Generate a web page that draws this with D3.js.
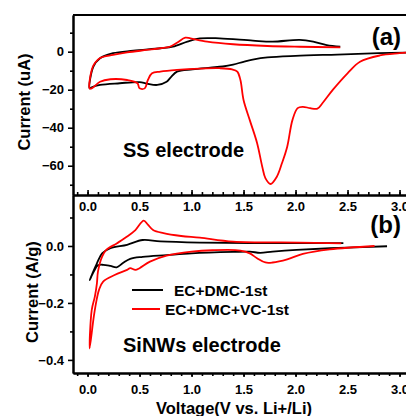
<!DOCTYPE html>
<html>
<head>
<meta charset="utf-8">
<script src="https://cdn.jsdelivr.net/npm/d3@7"></script>
<style>
  html, body { margin: 0; padding: 0; background: #fff; }
  svg { display: block; font-family: "Liberation Sans", Arial, sans-serif; font-weight: bold; }
  .axis path, .axis line { stroke: #000; }
  .axis text { font-size: 13px; font-weight: bold; fill: #000; }
</style>
</head>
<body>
<svg id="chart" width="406" height="416"></svg>
<script>
// Panel (a): SS electrode, current in uA  -- [voltage, current]
const ssDmc = [
  [3.10, -0.5], [2.80, -0.8], [2.40, -1.5], [2.00, -2.2], [1.73, -3.0], [1.60, -4.0],
  [1.50, -5.3], [1.40, -6.8], [1.30, -7.8], [1.18, -8.4], [1.01, -9.3], [0.86, -10.5],
  [0.80, -13.5], [0.76, -15.8], [0.67, -17.5], [0.57, -16.8], [0.50, -16.0], [0.31, -16.6],
  [0.12, -17.5], [0.04, -18.7], [0.02, -19.3],
  [0.056, -7.9], [0.12, -3.5], [0.245, -0.8], [0.44, 0.5], [0.70, 1.8], [0.82, 2.6],
  [0.96, 5.3], [1.08, 7.0], [1.27, 7.0], [1.59, 5.8], [1.78, 5.3], [2.04, 6.2],
  [2.17, 5.3], [2.30, 3.5], [2.43, 2.6]
];
const ssDmcVc = [
  [3.10, -0.3], [3.00, -0.8], [2.81, -2.0], [2.62, -5.3], [2.50, -11.4], [2.36, -20.0],
  [2.26, -27.0], [2.21, -30.0], [2.14, -29.7], [2.07, -29.0], [2.02, -29.7], [1.97, -36.0],
  [1.92, -50.0], [1.87, -58.6], [1.82, -65.8], [1.76, -69.6], [1.71, -66.5], [1.68, -60.5],
  [1.63, -48.0], [1.56, -36.0], [1.50, -25.4], [1.47, -14.9], [1.44, -10.5], [1.39, -9.3],
  [1.27, -8.7], [1.08, -8.9], [0.86, -9.6], [0.70, -10.5], [0.62, -11.4], [0.58, -14.9],
  [0.55, -19.3], [0.50, -19.3], [0.48, -16.6], [0.38, -14.9], [0.22, -14.5], [0.12, -15.8],
  [0.04, -19.3], [0.02, -19.3],
  [0.04, -9.6], [0.07, -6.0], [0.12, -3.3], [0.245, -1.7], [0.38, -0.4], [0.57, 0.9],
  [0.70, 1.8], [0.79, 2.6], [0.86, 4.7], [0.94, 7.4], [0.99, 7.0], [1.15, 5.3],
  [1.40, 3.9], [1.73, 3.0], [2.04, 2.6], [2.43, 2.3]
];

// Panel (b): SiNWs electrode, current in A/g
const siDmc = [
  [2.88, -0.001], [2.33, -0.008], [2.01, -0.014], [1.78, -0.020], [1.66, -0.024], [1.56, -0.020],
  [1.40, -0.021], [1.00, -0.026], [0.76, -0.032], [0.53, -0.038], [0.41, -0.045], [0.34, -0.060],
  [0.28, -0.075], [0.22, -0.070], [0.15, -0.066], [0.10, -0.068], [0.06, -0.090], [0.02, -0.120],
  [0.09, -0.061], [0.14, -0.026], [0.22, -0.008], [0.38, 0.004], [0.53, 0.021], [0.70, 0.016],
  [1.08, 0.012], [2.04, 0.010], [2.46, 0.010]
];
const siDmcVc = [
  [2.76, 0.000], [2.33, -0.012], [2.07, -0.028], [1.92, -0.047], [1.78, -0.058], [1.71, -0.058],
  [1.63, -0.043], [1.56, -0.026], [1.47, -0.016], [1.20, -0.015], [1.00, -0.020], [0.76, -0.034],
  [0.60, -0.055], [0.50, -0.078], [0.46, -0.084], [0.41, -0.078], [0.38, -0.084], [0.26, -0.102],
  [0.15, -0.125], [0.11, -0.154], [0.09, -0.184], [0.06, -0.248], [0.02, -0.360],
  [0.04, -0.225], [0.07, -0.178], [0.09, -0.131], [0.10, -0.090], [0.14, -0.037], [0.18, -0.014],
  [0.28, 0.009], [0.38, 0.033], [0.46, 0.056], [0.54, 0.089], [0.58, 0.075], [0.63, 0.056],
  [0.73, 0.045], [0.90, 0.035], [1.08, 0.029], [1.40, 0.015], [2.04, 0.012], [2.44, 0.009]
];

// ticks
const xMajor = [0, 0.5, 1.0, 1.5, 2.0, 2.5, 3.0];
const xMinor = d3.range(-1, 32).map(i => i / 10);
const aMajor = [0, -20, -40, -60];
const aMinor = [10, -10, -30, -50, -70];
const bMajor = [0.0, -0.2, -0.4];
const bMinor = [0.1, -0.1, -0.3];

const legendNames = ["EC+DMC-1st", "EC+DMC+VC-1st"];
const colors = ["#000000", "#ff0000"];

const svg = d3.select("#chart");
const left = 73, right = 412, topA = 15, mid = 195, botB = 373;

const x = d3.scaleLinear().domain([-0.14, 3.12]).range([left, right]);
const yA = d3.scaleLinear().domain([19.3, -75.4]).range([topA, mid]);
const yB = d3.scaleLinear().domain([0.179, -0.446]).range([mid, botB]);

const clip = svg.append("defs");
clip.append("clipPath").attr("id", "ca").append("rect")
  .attr("x", left).attr("y", topA).attr("width", right - left).attr("height", mid - topA);
clip.append("clipPath").attr("id", "cb").append("rect")
  .attr("x", left).attr("y", mid).attr("width", right - left).attr("height", botB - mid);

// curves
const lineA = d3.line().x(d => x(d[0])).y(d => yA(d[1])).curve(d3.curveCatmullRom.alpha(0.5));
const lineB = d3.line().x(d => x(d[0])).y(d => yB(d[1])).curve(d3.curveCatmullRom.alpha(0.5));

const gA = svg.append("g").attr("clip-path", "url(#ca)");
[ssDmc, ssDmcVc].forEach((s, i) => {
  gA.append("path").attr("d", lineA(s)).attr("fill", "none")
    .attr("stroke", colors[i]).attr("stroke-width", 1.8).attr("stroke-linejoin", "round");
});
const gB = svg.append("g").attr("clip-path", "url(#cb)");
[siDmc, siDmcVc].forEach((s, i) => {
  gB.append("path").attr("d", lineB(s)).attr("fill", "none")
    .attr("stroke", colors[i]).attr("stroke-width", 1.8).attr("stroke-linejoin", "round");
});

// axes
function styleAxis(g) {
  g.selectAll("path, line").attr("stroke-width", 1.6);
  g.select(".domain").attr("stroke-width", 2);
}

// panel a: left axis
svg.append("g").attr("class", "axis").attr("transform", `translate(${left},0)`)
  .call(d3.axisLeft(yA).tickValues(aMinor).tickFormat("").tickSizeInner(3).tickSizeOuter(0))
  .call(styleAxis);
svg.append("g").attr("class", "axis").attr("transform", `translate(${left},0)`)
  .call(d3.axisLeft(yA).tickValues(aMajor).tickFormat(d3.format("d")).tickSizeInner(5).tickSizeOuter(0).tickPadding(4))
  .call(styleAxis);

// panel b: left axis
svg.append("g").attr("class", "axis").attr("transform", `translate(${left},0)`)
  .call(d3.axisLeft(yB).tickValues(bMinor).tickFormat("").tickSizeInner(3).tickSizeOuter(0))
  .call(styleAxis);
svg.append("g").attr("class", "axis").attr("transform", `translate(${left},0)`)
  .call(d3.axisLeft(yB).tickValues(bMajor).tickFormat(d3.format(".1f")).tickSizeInner(5).tickSizeOuter(0).tickPadding(4))
  .call(styleAxis);

// shared middle axis: ticks up into panel a, labels below
svg.append("g").attr("class", "axis").attr("transform", `translate(0,${mid})`)
  .call(d3.axisBottom(x).tickValues(xMinor).tickFormat("").tickSizeInner(-3).tickSizeOuter(0))
  .call(styleAxis);
svg.append("g").attr("class", "axis").attr("transform", `translate(0,${mid})`)
  .call(d3.axisBottom(x).tickValues(xMajor).tickFormat(d3.format(".1f")).tickSizeInner(-5).tickSizeOuter(0).tickPadding(7))
  .call(styleAxis);

// bottom axis of panel b
svg.append("g").attr("class", "axis").attr("transform", `translate(0,${botB})`)
  .call(d3.axisBottom(x).tickValues(xMinor).tickFormat("").tickSizeInner(3).tickSizeOuter(0))
  .call(styleAxis);
svg.append("g").attr("class", "axis").attr("transform", `translate(0,${botB})`)
  .call(d3.axisBottom(x).tickValues(xMajor).tickFormat(d3.format(".1f")).tickSizeInner(4).tickSizeOuter(0).tickPadding(8))
  .call(styleAxis);

// top frame
svg.append("line").attr("x1", left).attr("x2", right).attr("y1", topA).attr("y2", topA)
  .attr("stroke", "#000").attr("stroke-width", 2);

// titles
svg.append("text").attr("transform", "translate(30,102) rotate(-90)")
  .attr("text-anchor", "middle").attr("font-size", 16.5).text("Current (uA)");
svg.append("text").attr("transform", "translate(38,292) rotate(-90)")
  .attr("text-anchor", "middle").attr("font-size", 16.5).text("Current (A/g)");
svg.append("text").attr("x", 234).attr("y", 414)
  .attr("text-anchor", "middle").attr("font-size", 16.5).text("Voltage(V vs. Li+/Li)");

svg.append("text").attr("x", 123).attr("y", 157).attr("font-size", 20).text("SS electrode");
svg.append("text").attr("x", 123).attr("y", 352).attr("font-size", 20).text("SiNWs electrode");

svg.append("text").attr("x", 401).attr("y", 45).attr("text-anchor", "end").attr("font-size", 24).text("(a)");
svg.append("text").attr("x", 401).attr("y", 233).attr("text-anchor", "end").attr("font-size", 24).text("(b)");

// legend
const legend = [
  { y: 290, x2: 163, tx: 174, fs: 15.5 },
  { y: 309, x2: 160, tx: 165, fs: 15.5 }
];
legend.forEach((l, i) => {
  svg.append("line").attr("x1", 132).attr("x2", l.x2).attr("y1", l.y).attr("y2", l.y)
    .attr("stroke", colors[i]).attr("stroke-width", 2);
  svg.append("text").attr("x", l.tx).attr("y", l.y).attr("dy", "0.36em")
    .attr("font-size", l.fs).text(legendNames[i]);
});
</script>
</body>
</html>
